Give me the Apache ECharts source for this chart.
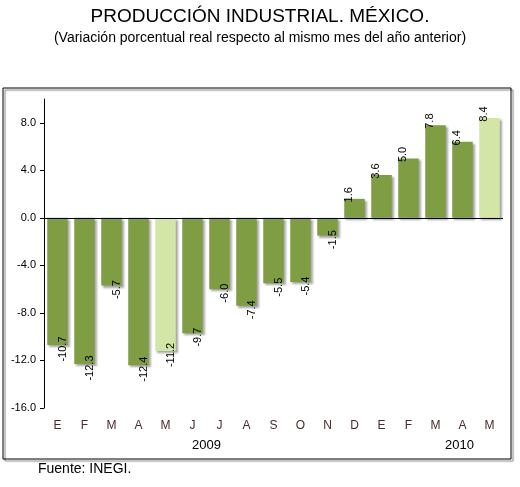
<!DOCTYPE html><html><head><meta charset="utf-8"><script src="https://cdn.jsdelivr.net/npm/echarts@6/dist/echarts.min.js"></script></head><body style="margin:0"><div id="c" style="width:520px;height:487px"></div><script>
var months=['E','F','M','A','M','J','J','A','S','O','N','D','E','F','M','A','M'];
var values=[-10.7,-12.3,-5.7,-12.4,-11.2,-9.7,-6.0,-7.4,-5.5,-5.4,-1.5,1.6,3.6,5.0,7.8,6.4,8.4];
var highlight=[4,16];
var years=['2009','2010'];
var ch=echarts.init(document.getElementById('c'));
ch.setOption({animation:false,
title:[{text:'PRODUCCIÓN INDUSTRIAL. MÉXICO.',left:'center',top:2,textStyle:{fontFamily:'Arial',fontWeight:'normal',fontSize:19,color:'#000'}},
{text:'(Variación porcentual real respecto al mismo mes del año anterior)',left:'center',top:26,textStyle:{fontFamily:'Arial',fontWeight:'normal',fontSize:14,color:'#000'}}],
graphic:[{type:'rect',shape:{x:3,y:88,width:508,height:371},style:{fill:'none',stroke:'#000',lineWidth:1,shadowColor:'rgba(0,0,0,0.5)',shadowOffsetX:2,shadowOffsetY:2,shadowBlur:1}},
{type:'text',left:192,top:439,style:{text:years[0],font:'13px Arial',fill:'#000'}},
{type:'text',left:445,top:439,style:{text:years[1],font:'13px Arial',fill:'#000'}},
{type:'text',left:38,top:462,style:{text:'Fuente: INEGI.',font:'14px Arial',fill:'#000'}}],
grid:{left:44,right:17,top:99,bottom:79},
xAxis:{type:'category',data:months,axisLine:{show:false},axisTick:{show:false},axisLabel:{color:'#4a2a2a',fontFamily:'Arial',fontSize:12,margin:12}},
yAxis:{type:'value',min:-16,max:10,interval:4,axisLine:{show:true,lineStyle:{color:'#000'}},axisTick:{show:true,length:4,lineStyle:{color:'#000'}},splitLine:{show:false},axisLabel:{showMaxLabel:false,formatter:function(v){return v.toFixed(1)},color:'#000',fontFamily:'Arial',fontSize:11}},
series:[{type:'bar',barCategoryGap:'24%',data:values.map(function(v,i){return {value:v,itemStyle:{color:highlight.indexOf(i)>=0?'#d3e6a8':'#7f9e43'}}}),
itemStyle:{shadowColor:'rgba(0,0,0,0.35)',shadowOffsetX:2,shadowOffsetY:2,shadowBlur:2},
label:{show:true,position:'outside',rotate:90,formatter:function(p){return p.value.toFixed(1)},color:'#000',fontFamily:'Arial',fontSize:11,distance:4},
markLine:{silent:true,symbol:'none',label:{show:false},lineStyle:{color:'#000',type:'solid',width:1},data:[{yAxis:0}]}}]});
</script></body></html>
